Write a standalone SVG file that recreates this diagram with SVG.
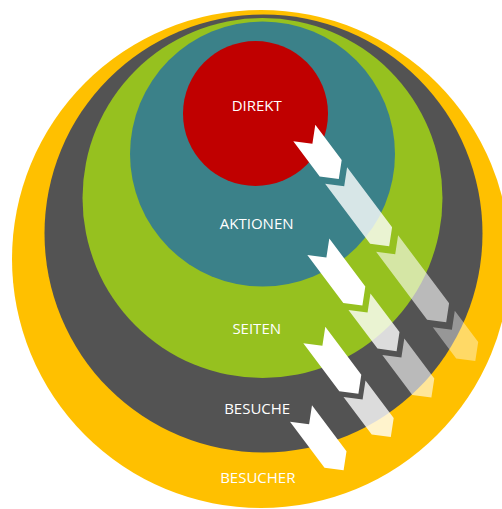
<svg xmlns="http://www.w3.org/2000/svg" width="502" height="509" viewBox="0 0 502 509">
<style>
.lbl{font-family:"Open Sans","Liberation Sans",sans-serif;font-size:15px;fill:#ffffff;text-anchor:middle}
.a1{fill:#ffffff}
.a2{fill:#ffffff;fill-opacity:0.8}
.a3{fill:#ffffff;fill-opacity:0.6}
.a4{fill:#ffffff;fill-opacity:0.4}
</style>
<rect width="502" height="509" fill="#ffffff"/>
<g id="besucher"><circle cx="261" cy="259" r="249" fill="#FFC000"/><text class="lbl" x="257.8" y="482.5">BESUCHER</text></g>
<g id="besuche"><circle cx="263.5" cy="233.5" r="219" fill="#535353"/><text class="lbl" x="257.2" y="414">BESUCHE</text></g>
<g id="seiten"><circle cx="262.5" cy="198" r="180" fill="#96C11F"/><text class="lbl" x="256.7" y="334">SEITEN</text></g>
<g id="aktionen"><circle cx="262.5" cy="154" r="132.5" fill="#3B8189"/><text class="lbl" x="256.7" y="229">AKTIONEN</text></g>
<g id="direkt"><circle cx="255.5" cy="113.5" r="72.5" fill="#C00000"/><text class="lbl" x="256.7" y="110.5">DIREKT</text></g>
<g id="connectors">
<g transform="translate(293.3,141.3) rotate(53.13)">
<polygon class="a1" points="0,0 44,0 57.5,-13.75 44,-27.5 0,-27.5 13.5,-13.75"/>
<polygon class="a2" points="53,0 128,0 141.5,-13.75 128,-27.5 53,-27.5 66.5,-13.75"/>
<polygon class="a3" points="138,0 223,0 236.5,-13.75 223,-27.5 138,-27.5 151.5,-13.75"/>
<polygon class="a4" points="232.5,0 271.5,0 285,-13.75 271.5,-27.5 232.5,-27.5 246,-13.75"/>
</g>
<g transform="translate(307.3,255) rotate(53.13)">
<polygon class="a1" points="0,0 60,0 73.5,-13.75 60,-27.5 0,-27.5 13.5,-13.75"/>
<polygon class="a2" points="68.6,0 117,0 130.5,-13.75 117,-27.5 68.6,-27.5 82.1,-13.75"/>
<polygon class="a3" points="125,0 175,0 188.5,-13.75 175,-27.5 125,-27.5 138.5,-13.75"/>
</g>
<g transform="translate(303.3,343.3) rotate(53.13)">
<polygon class="a1" points="0,0 60,0 73.5,-13.75 60,-27.5 0,-27.5 13.5,-13.75"/>
<polygon class="a2" points="67,0 114,0 127.5,-13.75 114,-27.5 67,-27.5 80.5,-13.75"/>
</g>
<g transform="translate(290,421.7) rotate(53.13)">
<polygon class="a1" points="0,0 57.5,0 71,-13.75 57.5,-27.5 0,-27.5 13.5,-13.75"/>
</g>
</g>
</svg>
